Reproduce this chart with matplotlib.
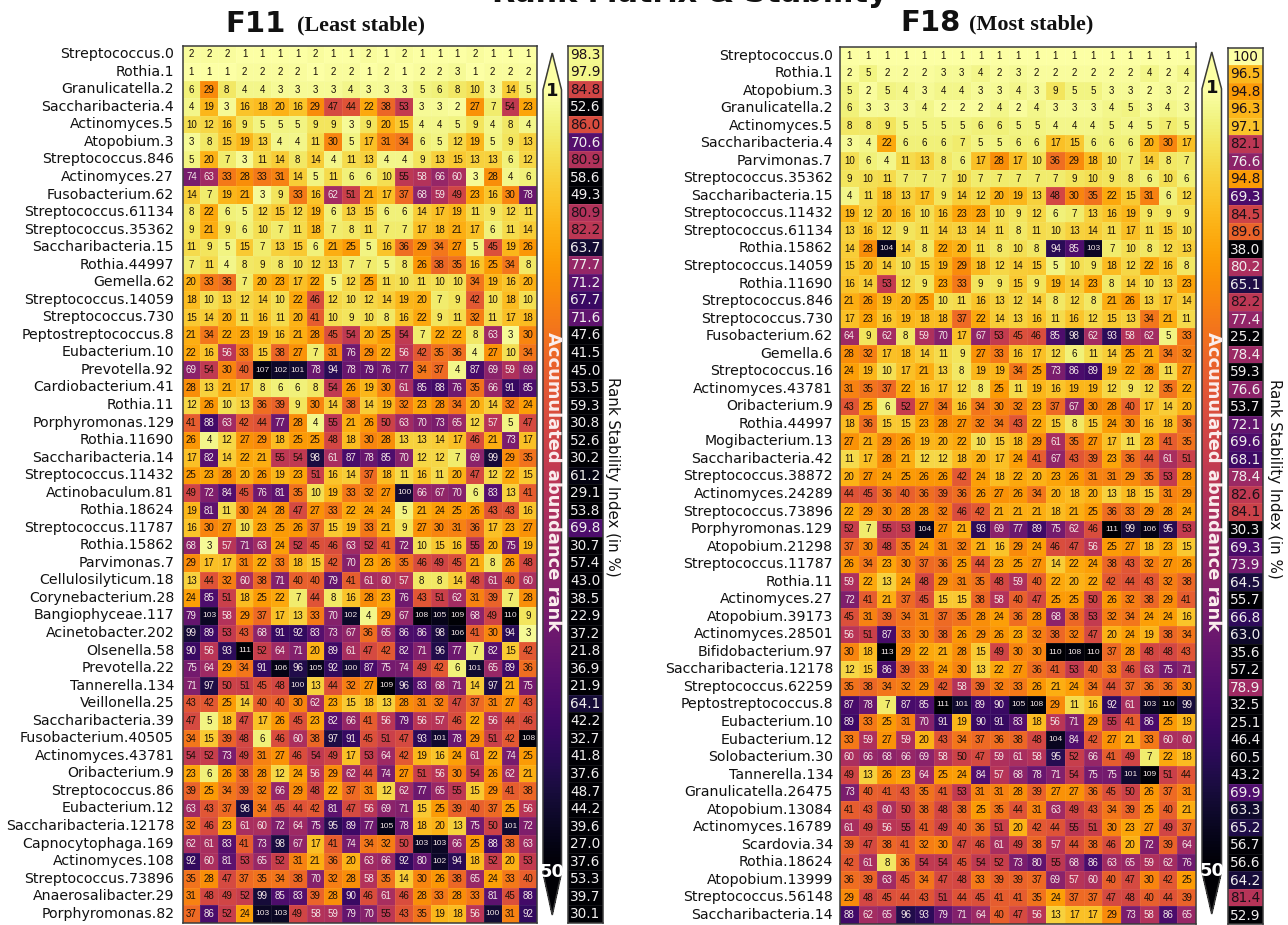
import matplotlib
matplotlib.use("Agg")
import matplotlib.pyplot as plt
from matplotlib.cm import ScalarMappable
from matplotlib.colors import Normalize
from matplotlib.lines import Line2D
import numpy as np

W, H = 1288, 925

# ---- F11
f11_taxa = ["Streptococcus.0", "Rothia.1", "Granulicatella.2", "Saccharibacteria.4", "Actinomyces.5",
            "Atopobium.3", "Streptococcus.846", "Actinomyces.27", "Fusobacterium.62", "Streptococcus.61134",
            "Streptococcus.35362", "Saccharibacteria.15", "Rothia.44997", "Gemella.62", "Streptococcus.14059",
            "Streptococcus.730", "Peptostreptococcus.8", "Eubacterium.10", "Prevotella.92", "Cardiobacterium.41",
            "Rothia.11", "Porphyromonas.129", "Rothia.11690", "Saccharibacteria.14", "Streptococcus.11432",
            "Actinobaculum.81", "Rothia.18624", "Streptococcus.11787", "Rothia.15862", "Parvimonas.7",
            "Cellulosilyticum.18", "Corynebacterium.28", "Bangiophyceae.117", "Acinetobacter.202", "Olsenella.58",
            "Prevotella.22", "Tannerella.134", "Veillonella.25", "Saccharibacteria.39", "Fusobacterium.40505",
            "Actinomyces.43781", "Oribacterium.9", "Streptococcus.86", "Eubacterium.12", "Saccharibacteria.12178",
            "Capnocytophaga.169", "Actinomyces.108", "Streptococcus.73896", "Anaerosalibacter.29", "Porphyromonas.82"]

f11_ranks = [
    [2, 2, 2, 1, 1, 1, 1, 2, 1, 1, 2, 1, 2, 1, 1, 1, 2, 1, 1, 1],
    [1, 1, 1, 2, 2, 2, 2, 1, 2, 2, 1, 2, 1, 2, 2, 3, 1, 2, 2, 2],
    [6, 29, 8, 4, 4, 3, 3, 3, 3, 4, 3, 3, 3, 5, 6, 8, 10, 3, 14, 5],
    [4, 19, 3, 16, 18, 20, 16, 29, 47, 44, 22, 38, 53, 3, 3, 2, 27, 7, 54, 23],
    [10, 12, 16, 9, 5, 5, 5, 9, 9, 3, 9, 20, 15, 4, 4, 5, 9, 4, 8, 4],
    [3, 8, 15, 19, 13, 4, 4, 11, 30, 5, 17, 31, 34, 6, 5, 12, 19, 5, 9, 13],
    [5, 20, 7, 3, 11, 14, 8, 14, 4, 11, 13, 4, 4, 9, 13, 15, 13, 13, 6, 12],
    [74, 63, 33, 28, 33, 31, 14, 5, 11, 6, 6, 10, 55, 58, 66, 60, 3, 28, 4, 6],
    [14, 7, 19, 21, 3, 9, 33, 16, 62, 51, 21, 17, 37, 68, 59, 49, 23, 16, 30, 78],
    [8, 22, 6, 5, 12, 15, 12, 19, 6, 13, 15, 6, 6, 14, 17, 19, 11, 9, 12, 11],
    [9, 21, 9, 6, 10, 7, 11, 18, 7, 8, 11, 7, 7, 17, 18, 21, 17, 6, 11, 14],
    [11, 9, 5, 15, 7, 13, 15, 6, 21, 25, 5, 16, 36, 29, 34, 27, 5, 45, 19, 26],
    [7, 11, 4, 8, 9, 8, 10, 12, 13, 7, 7, 5, 8, 26, 38, 35, 16, 25, 34, 8],
    [20, 33, 36, 7, 20, 23, 17, 22, 5, 12, 25, 11, 10, 11, 10, 10, 34, 19, 16, 20],
    [18, 10, 13, 12, 14, 10, 22, 46, 12, 10, 12, 14, 19, 20, 7, 9, 42, 10, 18, 10],
    [15, 14, 20, 11, 16, 11, 20, 41, 10, 9, 10, 8, 16, 22, 9, 11, 32, 11, 17, 18],
    [21, 34, 22, 23, 19, 16, 21, 28, 45, 54, 20, 25, 54, 7, 22, 22, 8, 63, 3, 30],
    [22, 16, 56, 33, 15, 38, 27, 7, 31, 76, 29, 22, 56, 42, 35, 36, 4, 27, 10, 34],
    [69, 54, 30, 40, 107, 102, 101, 78, 94, 78, 79, 76, 77, 34, 37, 4, 87, 69, 59, 69],
    [28, 13, 21, 17, 8, 6, 6, 8, 54, 26, 19, 30, 61, 85, 88, 76, 35, 66, 91, 85],
    [12, 26, 10, 13, 36, 39, 9, 30, 14, 38, 14, 19, 32, 23, 28, 34, 20, 14, 32, 24],
    [41, 88, 63, 42, 44, 77, 28, 4, 55, 21, 26, 50, 63, 70, 73, 65, 12, 57, 5, 47],
    [26, 4, 12, 27, 29, 18, 25, 25, 48, 18, 30, 28, 13, 13, 14, 17, 46, 21, 73, 17],
    [17, 82, 14, 22, 21, 55, 54, 98, 61, 87, 78, 85, 70, 12, 12, 7, 69, 99, 29, 35],
    [25, 23, 28, 20, 26, 19, 23, 51, 16, 14, 37, 18, 11, 16, 11, 20, 47, 12, 22, 15],
    [49, 72, 84, 45, 76, 81, 35, 10, 19, 33, 32, 27, 100, 66, 67, 70, 6, 83, 13, 41],
    [19, 81, 11, 30, 24, 28, 47, 27, 33, 22, 24, 24, 5, 21, 24, 25, 26, 43, 43, 16],
    [16, 30, 27, 10, 23, 25, 26, 37, 15, 19, 33, 21, 9, 27, 30, 31, 36, 17, 23, 27],
    [68, 3, 57, 71, 63, 24, 52, 45, 46, 63, 52, 41, 72, 10, 15, 16, 55, 20, 75, 19],
    [29, 17, 17, 31, 22, 33, 18, 15, 42, 70, 23, 26, 35, 46, 49, 45, 21, 8, 26, 48],
    [13, 44, 32, 60, 38, 71, 40, 40, 79, 41, 61, 60, 57, 8, 8, 14, 48, 61, 40, 60],
    [24, 85, 51, 18, 25, 22, 7, 44, 8, 16, 28, 23, 76, 43, 51, 62, 31, 39, 7, 28],
    [79, 103, 58, 29, 37, 17, 13, 33, 70, 102, 4, 29, 67, 108, 105, 109, 68, 49, 110, 9],
    [99, 89, 53, 43, 68, 91, 92, 83, 73, 67, 36, 65, 86, 86, 98, 106, 41, 30, 94, 3],
    [90, 56, 93, 111, 52, 64, 71, 20, 89, 61, 47, 42, 82, 71, 96, 77, 7, 82, 15, 42],
    [75, 64, 29, 34, 91, 106, 96, 105, 92, 100, 87, 75, 74, 49, 42, 6, 101, 65, 89, 36],
    [71, 97, 50, 51, 45, 48, 100, 13, 44, 32, 27, 109, 96, 83, 68, 71, 14, 97, 21, 75],
    [43, 42, 25, 14, 40, 40, 30, 62, 23, 15, 18, 13, 28, 31, 32, 47, 37, 31, 27, 43],
    [47, 5, 18, 47, 17, 26, 45, 23, 82, 66, 41, 56, 79, 56, 57, 46, 22, 56, 44, 46],
    [34, 15, 39, 48, 6, 46, 60, 38, 97, 91, 45, 51, 47, 93, 101, 78, 29, 51, 42, 108],
    [54, 52, 73, 49, 31, 27, 46, 54, 49, 17, 53, 64, 42, 19, 16, 24, 61, 22, 74, 25],
    [23, 6, 26, 38, 28, 12, 24, 56, 29, 62, 44, 74, 27, 51, 56, 30, 54, 26, 62, 21],
    [39, 25, 34, 39, 32, 66, 29, 48, 22, 37, 31, 12, 62, 77, 65, 55, 15, 29, 41, 38],
    [63, 43, 37, 98, 34, 45, 44, 42, 81, 47, 56, 69, 71, 15, 25, 39, 40, 37, 25, 56],
    [32, 46, 23, 61, 60, 72, 64, 75, 95, 89, 77, 105, 78, 18, 20, 13, 75, 50, 101, 72],
    [62, 61, 83, 41, 73, 98, 67, 17, 41, 74, 34, 32, 50, 103, 103, 66, 25, 88, 38, 63],
    [92, 60, 81, 53, 65, 52, 31, 21, 36, 20, 63, 66, 92, 80, 102, 94, 18, 52, 20, 53],
    [35, 28, 47, 37, 35, 34, 38, 70, 32, 28, 58, 35, 14, 30, 26, 38, 65, 24, 33, 40],
    [31, 48, 49, 52, 99, 85, 83, 39, 28, 90, 46, 61, 46, 28, 33, 28, 33, 81, 45, 88],
    [37, 86, 52, 24, 103, 103, 49, 58, 59, 79, 70, 55, 43, 35, 19, 18, 56, 100, 31, 92],
]

f11_stability = [98.3, 97.9, 84.8, 52.6, 86.0, 70.6, 80.9, 58.6, 49.3, 80.9,
                 82.2, 63.7, 77.7, 71.2, 67.7, 71.6, 47.6, 41.5, 45.0, 53.5,
                 59.3, 30.8, 52.6, 30.2, 61.2, 29.1, 53.8, 69.8, 30.7, 57.4,
                 43.0, 38.5, 22.9, 37.2, 21.8, 36.9, 21.9, 64.1, 42.2, 32.7,
                 41.8, 37.6, 48.7, 44.2, 39.6, 27.0, 37.6, 53.3, 39.7, 30.1]

# ---- F18
f18_taxa = ["Streptococcus.0", "Rothia.1", "Atopobium.3", "Granulicatella.2", "Actinomyces.5",
            "Saccharibacteria.4", "Parvimonas.7", "Streptococcus.35362", "Saccharibacteria.15", "Streptococcus.11432",
            "Streptococcus.61134", "Rothia.15862", "Streptococcus.14059", "Rothia.11690", "Streptococcus.846",
            "Streptococcus.730", "Fusobacterium.62", "Gemella.6", "Streptococcus.16", "Actinomyces.43781",
            "Oribacterium.9", "Rothia.44997", "Mogibacterium.13", "Saccharibacteria.42", "Streptococcus.38872",
            "Actinomyces.24289", "Streptococcus.73896", "Porphyromonas.129", "Atopobium.21298", "Streptococcus.11787",
            "Rothia.11", "Actinomyces.27", "Atopobium.39173", "Actinomyces.28501", "Bifidobacterium.97",
            "Saccharibacteria.12178", "Streptococcus.62259", "Peptostreptococcus.8", "Eubacterium.10", "Eubacterium.12",
            "Solobacterium.30", "Tannerella.134", "Granulicatella.26475", "Atopobium.13084", "Actinomyces.16789",
            "Scardovia.34", "Rothia.18624", "Atopobium.13999", "Streptococcus.56148", "Saccharibacteria.14"]

f18_ranks = [
    [1, 1, 1, 1, 1, 1, 1, 1, 1, 1, 1, 1, 1, 1, 1, 1, 1, 1, 1],
    [2, 5, 2, 2, 2, 3, 3, 4, 2, 3, 2, 2, 2, 2, 2, 2, 4, 2, 4],
    [5, 2, 5, 4, 3, 4, 4, 3, 3, 4, 3, 9, 5, 5, 3, 3, 2, 3, 2],
    [6, 3, 3, 3, 4, 2, 2, 2, 4, 2, 4, 3, 3, 3, 4, 5, 3, 4, 3],
    [8, 8, 9, 5, 5, 5, 5, 6, 6, 5, 5, 4, 4, 4, 5, 4, 5, 7, 5],
    [3, 4, 22, 6, 6, 6, 7, 5, 5, 6, 6, 17, 15, 6, 6, 6, 20, 30, 17],
    [10, 6, 4, 11, 13, 8, 6, 17, 28, 17, 10, 36, 29, 18, 10, 7, 14, 8, 7],
    [9, 10, 11, 7, 7, 7, 10, 7, 7, 7, 7, 7, 9, 10, 9, 8, 6, 10, 6],
    [4, 11, 18, 13, 17, 9, 14, 12, 20, 19, 13, 48, 30, 35, 22, 15, 31, 6, 12],
    [19, 12, 20, 16, 10, 16, 23, 23, 10, 9, 12, 6, 7, 13, 16, 19, 9, 9, 9],
    [13, 16, 12, 9, 11, 14, 13, 14, 11, 8, 11, 10, 13, 14, 11, 17, 11, 15, 10],
    [14, 28, 104, 14, 8, 22, 20, 11, 8, 10, 8, 94, 85, 103, 7, 10, 8, 12, 13],
    [15, 20, 14, 10, 15, 19, 29, 18, 12, 14, 15, 5, 10, 9, 18, 12, 22, 16, 8],
    [16, 14, 53, 12, 9, 23, 33, 9, 9, 15, 9, 19, 14, 23, 8, 14, 10, 13, 23],
    [21, 26, 19, 20, 25, 10, 11, 16, 13, 12, 14, 8, 12, 8, 21, 26, 13, 17, 14],
    [17, 23, 16, 19, 18, 18, 37, 22, 14, 13, 16, 11, 16, 12, 15, 13, 34, 21, 11],
    [64, 9, 62, 8, 59, 70, 17, 67, 53, 45, 46, 85, 98, 62, 93, 58, 62, 5, 33],
    [28, 32, 17, 18, 14, 11, 9, 27, 33, 16, 17, 12, 6, 11, 14, 25, 21, 34, 32],
    [24, 19, 10, 17, 21, 13, 8, 19, 19, 34, 25, 73, 86, 89, 19, 22, 28, 11, 27],
    [31, 35, 37, 22, 16, 17, 12, 8, 25, 11, 19, 16, 19, 19, 12, 9, 12, 35, 22],
    [43, 25, 6, 52, 27, 34, 16, 34, 30, 32, 23, 37, 67, 30, 28, 40, 17, 14, 20],
    [18, 36, 15, 15, 23, 28, 27, 32, 34, 43, 22, 15, 8, 15, 24, 30, 16, 18, 36],
    [27, 21, 29, 26, 19, 20, 22, 10, 15, 18, 29, 61, 35, 27, 17, 11, 23, 41, 35],
    [11, 17, 28, 21, 12, 12, 18, 20, 17, 24, 41, 67, 43, 39, 23, 36, 44, 61, 51],
    [20, 27, 24, 25, 26, 26, 42, 24, 18, 22, 20, 23, 26, 31, 31, 29, 35, 53, 28],
    [44, 45, 36, 40, 36, 39, 36, 26, 27, 26, 34, 20, 18, 20, 13, 18, 15, 31, 29],
    [22, 29, 30, 28, 28, 32, 46, 42, 21, 21, 21, 18, 21, 25, 36, 33, 29, 28, 24],
    [52, 7, 55, 53, 104, 27, 21, 93, 69, 77, 89, 75, 62, 46, 111, 99, 106, 95, 53],
    [37, 30, 48, 35, 24, 31, 32, 21, 16, 29, 24, 46, 47, 56, 25, 27, 18, 23, 15],
    [26, 34, 23, 30, 37, 36, 25, 44, 23, 25, 27, 14, 22, 24, 38, 43, 32, 27, 26],
    [59, 22, 13, 24, 48, 29, 31, 35, 48, 59, 40, 22, 20, 22, 42, 44, 43, 32, 38],
    [72, 41, 21, 37, 45, 15, 15, 38, 58, 40, 47, 25, 25, 50, 26, 32, 38, 29, 41],
    [45, 31, 39, 34, 31, 37, 35, 28, 24, 36, 28, 68, 38, 53, 32, 34, 24, 24, 16],
    [56, 51, 87, 33, 30, 38, 26, 29, 26, 23, 32, 38, 32, 47, 20, 24, 19, 38, 34],
    [30, 18, 113, 29, 22, 21, 28, 15, 49, 30, 30, 110, 108, 110, 37, 28, 48, 48, 43],
    [12, 15, 86, 39, 33, 24, 30, 13, 22, 27, 36, 41, 53, 40, 33, 46, 63, 75, 71],
    [35, 38, 34, 32, 29, 42, 58, 39, 32, 33, 26, 21, 24, 34, 44, 37, 36, 36, 30],
    [87, 78, 7, 87, 85, 111, 101, 89, 90, 105, 108, 29, 11, 16, 92, 61, 103, 110, 99],
    [89, 33, 25, 31, 70, 91, 19, 90, 91, 83, 18, 56, 71, 29, 55, 41, 86, 25, 19],
    [33, 59, 27, 59, 20, 43, 34, 37, 36, 38, 48, 104, 84, 42, 27, 21, 33, 60, 60],
    [60, 66, 68, 66, 69, 58, 50, 47, 59, 61, 58, 95, 52, 66, 41, 49, 7, 22, 18],
    [49, 13, 26, 23, 64, 25, 24, 84, 57, 68, 78, 71, 54, 75, 75, 101, 109, 51, 44],
    [73, 40, 41, 43, 35, 41, 53, 31, 31, 28, 39, 27, 27, 36, 45, 50, 26, 37, 31],
    [41, 43, 60, 50, 38, 48, 38, 25, 35, 44, 31, 63, 49, 43, 34, 39, 25, 40, 21],
    [61, 49, 56, 55, 41, 49, 40, 36, 51, 20, 42, 44, 55, 51, 30, 23, 27, 49, 37],
    [39, 47, 38, 41, 32, 30, 47, 46, 61, 49, 38, 57, 44, 38, 46, 20, 72, 39, 64],
    [42, 61, 8, 36, 54, 54, 45, 54, 52, 73, 80, 55, 68, 86, 63, 65, 59, 62, 76],
    [36, 39, 63, 45, 34, 47, 48, 33, 39, 39, 37, 69, 57, 60, 40, 47, 30, 42, 25],
    [29, 48, 45, 44, 43, 51, 44, 45, 41, 41, 35, 24, 37, 37, 47, 48, 40, 44, 39],
    [88, 62, 65, 96, 93, 79, 71, 64, 40, 47, 56, 13, 17, 17, 29, 73, 58, 86, 65],
]

f18_stability = [100, 96.5, 94.8, 96.3, 97.1, 82.1, 76.6, 94.8, 69.3, 84.5,
                 89.6, 38.0, 80.2, 65.1, 82.2, 77.4, 25.2, 78.4, 59.3, 76.6,
                 53.7, 72.1, 69.6, 68.1, 78.4, 82.6, 84.1, 30.3, 69.3, 73.9,
                 64.5, 55.7, 66.8, 63.0, 35.6, 57.2, 78.9, 32.5, 25.1, 46.4,
                 60.5, 43.2, 69.9, 63.3, 65.2, 56.7, 56.6, 64.2, 81.4, 52.9]

EDGE = "#3a3a3a"


def px_axes(fig, x0, y0, x1, y1):
    # pixel box, y measured from the top of the picture
    return fig.add_axes([x0 / W, 1 - y1 / H, (x1 - x0) / W, (y1 - y0) / H])


def style_spines(ax):
    for s in ax.spines.values():
        s.set_color(EDGE)
        s.set_linewidth(1.1)


def draw_heatmap(fig, box, taxa, ranks, pad):
    ax = px_axes(fig, *box)
    ranks = np.array(ranks)
    ax.pcolormesh(ranks, cmap="inferno_r", vmin=1, vmax=110,
                  edgecolors=(1, 1, 1, 0.07), linewidth=0.4)
    ax.set_ylim(len(taxa), 0)
    ax.set_xlim(0, ranks.shape[1])
    ax.set_xticks([])
    ax.set_yticks(np.arange(len(taxa)) + 0.4)
    ax.set_yticklabels(taxa, fontsize=10.2, color="#111111")
    ax.tick_params(axis="y", length=0, pad=pad)
    for i in range(ranks.shape[0]):
        for j in range(ranks.shape[1]):
            v = ranks[i, j]
            ax.text(j + 0.5, i + 0.5, str(v), ha="center", va="center",
                    fontsize=6.0 if v > 99 else 7.0, family="Liberation Sans",
                    color="#f2e6e6" if v > 55.5 else "#1a1008")
    style_spines(ax)
    return ax


def draw_stability(fig, box, stability, labelpad):
    ax = px_axes(fig, *box)
    vals = np.array(stability)
    # the strip's colours bunch up close to 100
    shade = np.interp(vals, [60, 70, 84.8, 89.6, 94.8, 97.1, 97.9, 100],
                      [0, 0.235, 0.56, 0.65, 0.78, 0.86, 0.97, 1])
    ax.pcolormesh(shade[:, None], cmap="inferno", vmin=0, vmax=1,
                  edgecolors=(1, 1, 1, 0.08), linewidth=0.5)
    ax.set_ylim(len(vals), 0)
    ax.set_xlim(0, 1)
    ax.set_xticks([])
    ax.set_yticks([])
    for i, v in enumerate(vals):
        label = "100" if v == 100 else "%.1f" % v
        ax.text(0.5, i + 0.52, label, ha="center", va="center", fontsize=9.8,
                color="#1c1018" if v > 80.5 else "#f0eeee")
    style_spines(ax)
    ax.yaxis.set_label_position("right")
    ax.set_ylabel("Rank Stability Index (in %)", rotation=270, fontsize=10.8,
                  labelpad=labelpad, y=0.508, color="#111111")
    return ax


def draw_arrow(fig, box, one_y):
    cax = px_axes(fig, *box)
    sm = ScalarMappable(norm=Normalize(1, 50), cmap="inferno_r")
    cb = fig.colorbar(sm, cax=cax, extend="both", extendfrac=[0.054, 0.047])
    cax.invert_yaxis()
    cb.set_ticks([])
    cb.outline.set_edgecolor(EDGE)
    cb.outline.set_linewidth(1.1)
    xm = 0.5 * (box[0] + box[2]) / W
    fig.text(xm, 1 - one_y / H, "1", ha="center", va="center", fontsize=13,
             fontweight="bold", color="#111111")
    fig.text(xm, 1 - (box[3] - 43) / H, "50", ha="center", va="center", fontsize=13,
             fontweight="bold", color="white")
    fig.text(xm + 1 / W, 1 - 482 / H, "Accumulated abundance rank", rotation=270,
             ha="center", va="center", fontsize=12.9, fontweight="bold", color="#fbeeee")


fig = plt.figure(figsize=(W / 100, H / 100), dpi=100, facecolor="white")

draw_heatmap(fig, (182.5, 45.7, 537, 922.7), f11_taxa, f11_ranks, 6)
draw_arrow(fig, (543, 53, 561.5, 915), 91)
draw_stability(fig, (568, 45.7, 603, 922.7), f11_stability, 12.5)

draw_heatmap(fig, (840, 47, 1196, 924), f18_taxa, f18_ranks, 5)
draw_arrow(fig, (1202, 52, 1221.5, 914), 88)
draw_stability(fig, (1228, 47.7, 1263, 924), f18_stability, 14)

# the right panel's edge pokes out above its top spine
fig.add_artist(Line2D([1196 / W, 1196 / W], [1 - 43 / H, 1 - 47 / H], color=EDGE, linewidth=1.1))

fig.text(690 / W, 1 - 2.5 / H, "Rank Matrix & Stability", ha="center", va="baseline",
         fontsize=21.8, fontweight="bold", color="#111111")

fig.text(225 / W, 1 - 32 / H, "F11", ha="left", va="baseline", fontsize=21,
         fontweight="bold", color="#111111")
fig.text(297 / W, 1 - 30 / H, "(Least stable)", ha="left", va="baseline", fontsize=16,
         family="Liberation Serif", fontweight="bold", color="#111111")
fig.text(900 / W, 1 - 31 / H, "F18", ha="left", va="baseline", fontsize=21,
         fontweight="bold", color="#111111")
fig.text(969 / W, 1 - 29 / H, "(Most stable)", ha="left", va="baseline", fontsize=16,
         family="Liberation Serif", fontweight="bold", color="#111111")

fig.savefig("out.png", dpi=100)
